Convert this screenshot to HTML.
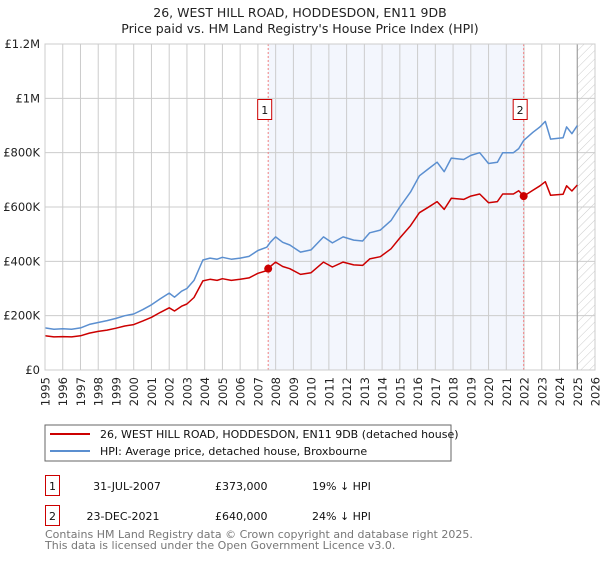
<!DOCTYPE html>
<html><head><meta charset="utf-8"><style>
body{margin:0;background:#fff;font-family:"DejaVu Sans","Liberation Sans",sans-serif;}
svg text{font-family:"DejaVu Sans","Liberation Sans",sans-serif;}
</style></head><body>
<svg id="chart" width="600" height="560" xmlns="http://www.w3.org/2000/svg">
<defs><pattern id="hatch" width="6" height="6" patternUnits="userSpaceOnUse" patternTransform="rotate(45)"><line x1="0" y1="0" x2="0" y2="6" stroke="#ccc" stroke-width="1"/></pattern></defs>
<text x="300" y="17" text-anchor="middle" font-size="12.5" fill="#222">26, WEST HILL ROAD, HODDESDON, EN11 9DB</text>
<text x="300" y="33" text-anchor="middle" font-size="12.5" fill="#222">Price paid vs. HM Land Registry's House Price Index (HPI)</text>
<g id="plot"></g>
<g>
<rect x="45" y="425" width="406" height="36" fill="#fff" stroke="#666" stroke-width="1"/>
<line x1="50" y1="434" x2="90" y2="434" stroke="#cc0000" stroke-width="2"/>
<text x="100" y="438" font-size="11" fill="#111">26, WEST HILL ROAD, HODDESDON, EN11 9DB (detached house)</text>
<line x1="50" y1="451" x2="90" y2="451" stroke="#5b8fd0" stroke-width="2"/>
<text x="100" y="455" font-size="11" fill="#111">HPI: Average price, detached house, Broxbourne</text>
</g>
<g font-size="11" fill="#111">
<rect x="45.5" y="475.5" width="14" height="20" fill="#fff" stroke="#cc0000"/>
<text x="52.5" y="490" text-anchor="middle">1</text>
<text x="127" y="490" text-anchor="middle">31-JUL-2007</text>
<text x="215" y="490">£373,000</text>
<text x="312" y="490">19% ↓ HPI</text>
<rect x="45.5" y="505.5" width="14" height="20" fill="#fff" stroke="#cc0000"/>
<text x="52.5" y="520" text-anchor="middle">2</text>
<text x="123" y="520" text-anchor="middle">23-DEC-2021</text>
<text x="215" y="520">£640,000</text>
<text x="312" y="520">24% ↓ HPI</text>
</g>
<text x="45" y="538" font-size="11" fill="#777">Contains HM Land Registry data © Crown copyright and database right 2025.</text>
<text x="45" y="549" font-size="11" fill="#777">This data is licensed under the Open Government Licence v3.0.</text>
</svg>
<script>
const years=[1995.0,1995.5,1996.0,1996.5,1997.0,1997.5,1998.0,1998.5,1999.0,1999.5,2000.0,2000.5,2001.0,2001.5,2002.0,2002.3,2002.7,2003.0,2003.4,2003.9,2004.3,2004.7,2005.0,2005.5,2006.0,2006.5,2007.0,2007.5,2007.7,2008.0,2008.4,2008.8,2009.4,2010.0,2010.7,2011.2,2011.8,2012.4,2012.9,2013.3,2013.9,2014.5,2015.0,2015.6,2016.1,2016.6,2017.1,2017.5,2017.9,2018.6,2019.0,2019.5,2020.0,2020.5,2020.8,2021.4,2021.7,2021.98,2022.5,2022.9,2023.2,2023.5,2024.2,2024.4,2024.7,2025.0];
const hpiValues=[155,150,152,150,155,168,175,182,190,200,206,222,240,262,283,268,290,300,330,405,412,408,415,408,412,418,440,452,470,490,470,460,434,442,490,468,490,478,475,505,515,550,600,655,715,740,765,730,780,775,790,800,760,765,800,800,815,845,875,895,915,850,855,895,870,900];
const propValues=[126,122,123,122,126,136,142,147,154,162,167,180,194,212,229,217,235,243,267,328,334,330,336,330,334,339,356,366,381,397,381,373,352,358,397,379,397,387,385,409,417,446,486,531,579,599,620,591,632,628,640,648,616,620,648,648,660,640,662,678,693,643,647,678,659,681];
const yTicks=[0,200,400,600,800,1000,1200];
const yTickLabels=["£0","£200K","£400K","£600K","£800K","£1M","£1.2M"];
const xTicks=[1995,1996,1997,1998,1999,2000,2001,2002,2003,2004,2005,2006,2007,2008,2009,2010,2011,2012,2013,2014,2015,2016,2017,2018,2019,2020,2021,2022,2023,2024,2025,2026];
const saleDates=[2007.58,2021.98];
const salePrices=[373,640];
const saleLabels=["1","2"];
const dataEnd=2025.0;

const X0=45,X1=595,Y0=370,Y1=44;
const xs=y=>X0+(y-1995)/(2026-1995)*(X1-X0);
const ys=v=>Y0-v/1200*(Y0-Y1);
const NS="http://www.w3.org/2000/svg";
const plot=document.getElementById('plot');
function mk(tag,attrs,parent){const e=document.createElementNS(NS,tag);for(const k in attrs)e.setAttribute(k,attrs[k]);(parent||plot).appendChild(e);return e;}

const bg=mk('rect',{x:X0,y:Y1,width:X1-X0,height:Y0-Y1,fill:'#fff'});


const shade=mk('rect',{x:xs(saleDates[0]),y:Y1,width:xs(saleDates[1])-xs(saleDates[0]),height:Y0-Y1,fill:'#f3f6fd'});


const hatch=mk('rect',{x:xs(dataEnd),y:Y1,width:X1-xs(dataEnd),height:Y0-Y1,fill:'url(#hatch)'});



xTicks.forEach(t=>{
  const l=mk('line',{x1:xs(t),x2:xs(t),y1:Y1,y2:Y0,stroke:'#ccc','stroke-width':1});
  
  
  const x=xs(t)+4.5;
  const tx=mk('text',{x:x,y:377,'text-anchor':'end','font-size':11.5,fill:'#222',transform:'rotate(-90 '+x+' 377)'});
  tx.textContent=t;
  
  
});
yTicks.forEach((t,i)=>{
  const l=mk('line',{x1:X0,x2:X1,y1:ys(t),y2:ys(t),stroke:'#ccc','stroke-width':1});
  
  
  const tx=mk('text',{x:40,y:ys(t)+4,'text-anchor':'end','font-size':11.5,fill:'#222'});
  tx.textContent=yTickLabels[i];
  
  
});
const endLine=mk('line',{x1:xs(dataEnd),x2:xs(dataEnd),y1:Y1,y2:Y0,stroke:'#999','stroke-width':1});



saleDates.forEach((d,i)=>{
  const l=mk('line',{x1:xs(d),x2:xs(d),y1:Y1,y2:Y0,stroke:'#f08080','stroke-width':1,'stroke-dasharray':'2,2'});
  
  
});

const pts=v=>years.map((y,i)=>xs(y).toFixed(1)+','+ys(v[i]).toFixed(1)).join(' ');
const hpi=mk('polyline',{points:pts(hpiValues),fill:'none',stroke:'#5b8fd0','stroke-width':1.5,'stroke-linejoin':'round'});


const prop=mk('polyline',{points:pts(propValues),fill:'none',stroke:'#cc0000','stroke-width':1.5,'stroke-linejoin':'round'});



saleDates.forEach((d,i)=>{
  const c=mk('circle',{cx:xs(d),cy:ys(salePrices[i]),r:4,fill:'#cc0000'});
  
  
  const r=mk('rect',{x:xs(d)-10.5,y:99.5,width:14,height:20,fill:'#fff',stroke:'#cc0000'});
  
  
  const t=mk('text',{x:xs(d)-3.5,y:114,'text-anchor':'middle','font-size':11,fill:'#111'});
  t.textContent=saleLabels[i];
  
  
});
const frame=mk('rect',{x:X0,y:Y1,width:X1-X0,height:Y0-Y1,fill:'none',stroke:'#ccc'});


</script>
</body></html>
